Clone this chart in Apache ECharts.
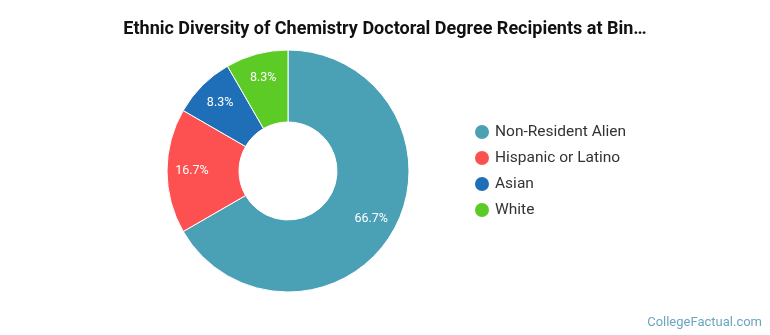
<!DOCTYPE html>
<html>
<head>
<meta charset="utf-8">
<script src="https://cdn.jsdelivr.net/npm/echarts@6/dist/echarts.min.js"></script>
<style>
    html, body { margin: 0; padding: 0; background: #fff; }
    #chart { width: 770px; height: 335px; }
</style>
</head>
<body>
<div id="chart"></div>
<script>
// 数据
const categories = ['Non-Resident Alien', 'Hispanic or Latino', 'Asian', 'White'];
const values = [8, 2, 1, 1];
const colors = ['#4aa0b5', '#fd5151', '#1f6fb8', '#5dcb26'];

const chart = echarts.init(document.getElementById('chart'));

// 标签稍微往外推一点
const total = values.reduce((a, b) => a + b, 0);
let acc = 0;
const labelOffsets = values.map((v) => {
    const mid = (acc + v / 2) / total * Math.PI * 2;
    acc += v;
    return [8 * Math.sin(mid), -8 * Math.cos(mid)];
});

const option = {
    animation: false,
    title: {
        text: 'Ethnic Diversity of Chemistry Doctoral Degree Recipients at Bin\u2026',
        left: 'center',
        top: 15,
        textStyle: {
            fontFamily: 'Roboto',
            fontSize: 18,
            fontWeight: 'bold',
            color: '#111',
        },
    },
    graphic: [
        {
            type: 'text',
            right: 8,
            bottom: 6,
            style: {
                text: 'CollegeFactual.com',
                font: '13px Roboto',
                fill: '#6aa6bd',
            },
        },
    ],
    legend: {
        orient: 'vertical',
        left: 468,
        top: 118,
        icon: 'circle',
        itemWidth: 16,
        itemHeight: 16,
        itemGap: 8,
        textStyle: {
            fontFamily: 'Roboto',
            fontSize: 15.5,
            color: '#333',
        },
        data: categories,
    },
    series: [
        {
            type: 'pie',
            center: [288, 171],
            radius: [49, 121],
            startAngle: 90,
            clockwise: true,
            avoidLabelOverlap: false,
            itemStyle: {
                borderColor: '#fff',
                borderWidth: 1,
            },
            label: {
                position: 'inside',
                formatter: (p) => p.percent.toFixed(1) + '%',
                fontFamily: 'Roboto',
                fontSize: 12.5,
                color: '#fff',
            },
            labelLine: {show: false},
            data: categories.map((name, i) => ({
                name: name,
                value: values[i],
                itemStyle: {color: colors[i]},
                label: {offset: labelOffsets[i]},
            })),
        },
    ],
};

chart.setOption(option);
</script>
</body>
</html>
